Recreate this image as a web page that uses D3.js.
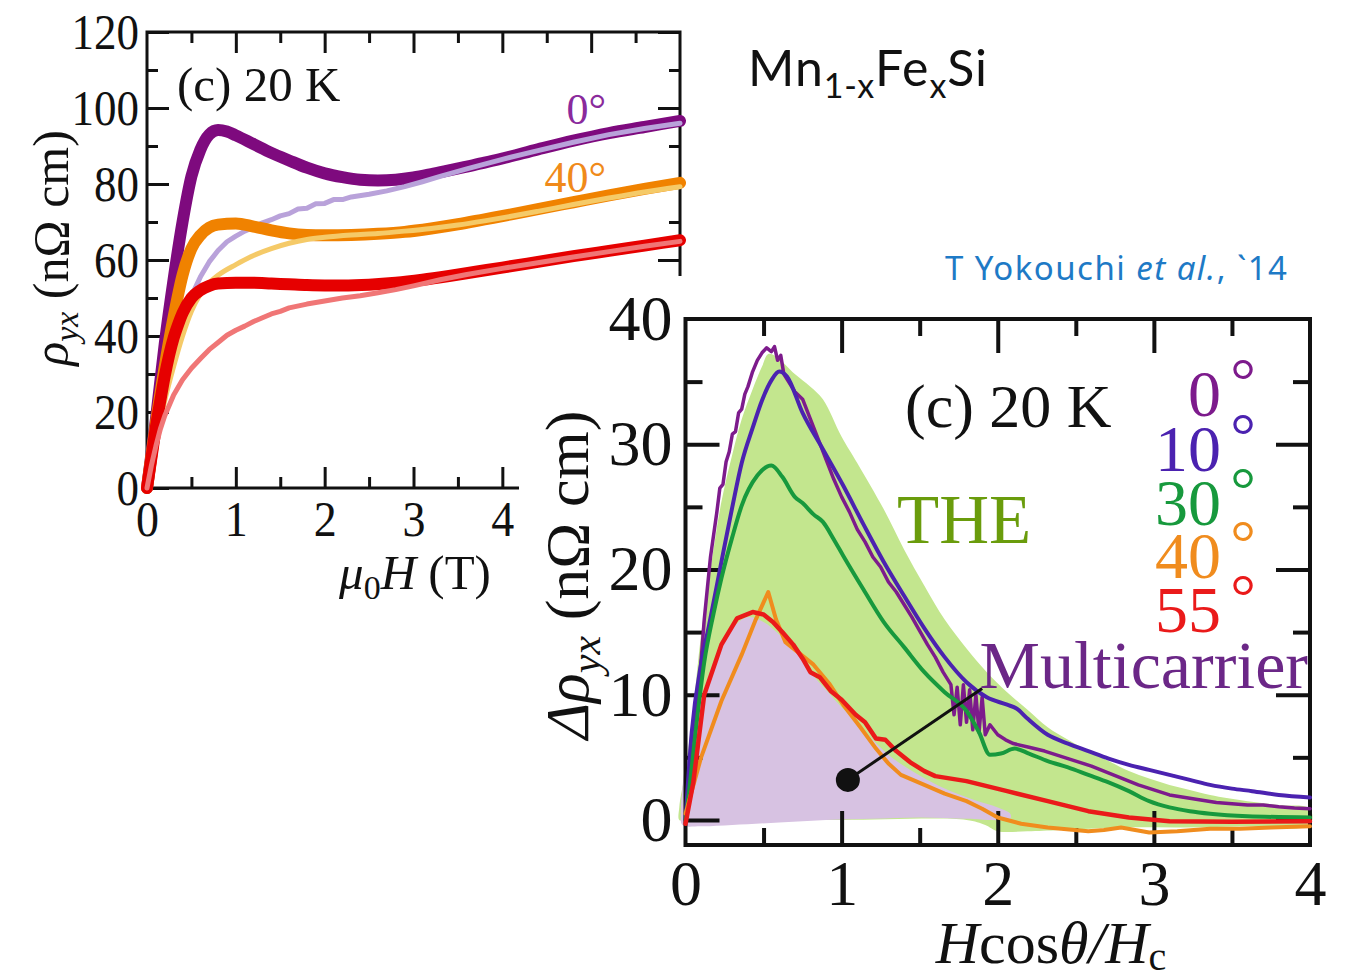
<!DOCTYPE html>
<html>
<head>
<meta charset="utf-8">
<script src="https://cdn.jsdelivr.net/npm/d3@7"></script>
<style>
  body { margin: 0; background: #fff; }
  svg { display: block; }
  .sans { font-family: "Lato", "Noto Sans", sans-serif; }
</style>
</head>
<body>
<svg width="1348" height="978"></svg>
<script>
// ---- left panel: rho_yx vs mu0H (T) ----
const leftXTicks = [0, 1, 2, 3, 4];
const leftYTicks = [0, 20, 40, 60, 80, 100, 120];

const rho0Thick = [[0,0],[0.1,18],[0.2,38],[0.3,55],[0.4,70],[0.5,82],[0.6,89],[0.7,93],[0.8,94.2],[0.9,93.8],[1.0,92.8],[1.2,90.5],[1.4,88.2],[1.6,86.2],[1.8,84.3],[2.0,82.8],[2.2,81.8],[2.4,81.1],[2.6,80.9],[2.8,81.1],[3.0,81.7],[3.2,82.6],[3.4,83.6],[3.6,84.6],[3.8,85.6],[4.0,86.7],[4.4,89.1],[4.8,91.4],[5.2,93.4],[5.6,95],[6,96.6]];
const rho0Thin = [[0,0],[0.1,14],[0.2,26],[0.3,36],[0.4,44],[0.5,50.5],[0.6,55.5],[0.7,59.5],[0.8,62.5],[0.9,64.8],[1.0,66.3],[1.1,67.6],[1.2,68.6],[1.3,69.8],[1.4,70.6],[1.5,71.6],[1.6,72.2],[1.7,73.4],[1.8,73.6],[1.9,74.8],[2.0,74.9],[2.1,75.9],[2.2,75.9],[2.3,76.6],[2.5,77.3],[2.7,78.2],[2.9,79.3],[3.1,80.6],[3.3,82],[3.6,84],[4.0,86.5],[4.4,88.8],[4.8,91],[5.2,93],[5.6,94.6],[6,96]];
const rho40Thick = [[0,0],[0.1,17],[0.2,32],[0.3,45],[0.4,56],[0.5,63],[0.6,66.5],[0.7,68.5],[0.8,69.3],[1.0,69.6],[1.2,68.8],[1.4,67.8],[1.6,67],[1.8,66.6],[2.0,66.5],[2.3,66.6],[2.6,66.9],[2.9,67.4],[3.2,68.3],[3.5,69.4],[3.8,70.7],[4.1,72],[4.4,73.4],[4.8,75.2],[5.2,77],[5.6,78.7],[6,80.3]];
const rho40Thin = [[0,0],[0.1,12],[0.2,23],[0.3,32],[0.4,40],[0.5,46.5],[0.6,51],[0.7,54],[0.8,56],[1.0,58.8],[1.2,61.2],[1.4,63],[1.6,64.4],[1.8,65.4],[2.0,66],[2.3,66.6],[2.6,67],[2.9,67.6],[3.2,68.3],[3.5,69.2],[3.8,70.3],[4.1,71.5],[4.4,72.8],[4.8,74.6],[5.2,76.3],[5.6,77.9],[6,79.3]];
const rho55Thick = [[0,0],[0.05,8],[0.1,16],[0.15,23],[0.2,29.5],[0.25,35],[0.3,39.5],[0.35,43],[0.4,46],[0.5,50],[0.6,52],[0.7,53.2],[0.8,53.8],[1.0,54],[1.2,54],[1.4,53.8],[1.6,53.6],[1.8,53.4],[2.0,53.3],[2.2,53.3],[2.5,53.5],[2.8,54],[3.1,54.8],[3.4,55.8],[3.7,56.9],[4.0,58],[4.4,59.5],[4.8,61],[5.2,62.4],[5.6,63.8],[6,65.2]];
const rho55Thin = [[0,0],[0.05,6],[0.1,11],[0.15,15.5],[0.2,19],[0.3,24.5],[0.4,28.5],[0.5,31.5],[0.6,34],[0.7,36.4],[0.8,38.3],[0.9,40.2],[1.0,41.5],[1.1,42.6],[1.2,43.8],[1.3,44.8],[1.4,45.8],[1.5,46.5],[1.6,47.4],[1.8,48.4],[2.0,49.2],[2.2,50],[2.4,50.6],[2.6,51.4],[2.8,52.2],[3.0,53.2],[3.3,54.8],[3.6,56.2],[4.0,57.8],[4.4,59.3],[4.8,60.8],[5.2,62.2],[5.6,63.6],[6,64.9]];

// ---- right panel: delta rho_yx vs Hcos(theta)/Hc ----
const rightXTicks = [0, 1, 2, 3, 4];
const rightYTicks = [0, 10, 20, 30, 40];
const angleLabels = ["0", "10", "30", "40", "55"];

const d0 = [[0,0],[0.04,4],[0.08,9.5],[0.12,16],[0.16,21],[0.2,24.5],[0.22,26.5],[0.24,26.8],[0.26,28.6],[0.28,29.4],[0.3,30.8],[0.32,31],[0.34,32.5],[0.36,32.8],[0.38,34],[0.4,34.6],[0.43,35.8],[0.46,36.7],[0.49,37.3],[0.52,37.7],[0.55,37.4],[0.57,37.8],[0.59,36.7],[0.61,37.1],[0.63,35.6],[0.66,35],[0.7,34.2],[0.75,33.6],[0.8,32],[0.85,30.4],[0.9,28.8],[0.95,27.2],[1.0,25.8],[1.05,24.6],[1.1,23.2],[1.15,22.2],[1.2,21],[1.25,20.2],[1.3,19],[1.35,18.2],[1.4,17.2],[1.45,16.2],[1.5,15.1],[1.55,14],[1.6,13],[1.65,11.8],[1.7,10.8],[1.72,8.4],[1.74,10.6],[1.76,7.6],[1.78,10.8],[1.8,7.8],[1.82,10.4],[1.84,7.2],[1.86,10],[1.88,7],[1.9,9.8],[1.92,6.8],[1.95,7.6],[2.0,6.8],[2.05,6.4],[2.1,6.1],[2.2,5.8],[2.3,5.5],[2.4,5.1],[2.5,4.7],[2.6,4.3],[2.7,3.8],[2.8,3.3],[2.9,2.8],[3.0,2.4],[3.1,2.0],[3.2,1.8],[3.3,1.6],[3.4,1.4],[3.5,1.3],[3.6,1.2],[3.7,1.2],[3.8,1.05],[3.9,0.95],[4.0,0.9]];
const d10 = [[0,0],[0.04,7],[0.1,12.5],[0.15,15.5],[0.23,20.6],[0.3,25],[0.36,28.5],[0.43,31.3],[0.49,33.5],[0.55,35.1],[0.6,35.8],[0.65,35.4],[0.75,32.5],[0.88,29.6],[1.01,26.7],[1.14,23.6],[1.27,20.6],[1.4,17.9],[1.53,15.3],[1.66,13],[1.8,11],[1.93,9.8],[2.06,9.2],[2.12,8.9],[2.19,8.1],[2.32,6.8],[2.45,6.1],[2.58,5.5],[2.71,4.9],[2.84,4.4],[2.97,4.0],[3.1,3.6],[3.23,3.2],[3.36,2.8],[3.5,2.5],[3.63,2.3],[3.8,2.0],[4.0,1.8]];
const d30 = [[0,0],[0.02,2],[0.06,6.5],[0.12,12.6],[0.18,16.5],[0.23,19.3],[0.3,22.6],[0.36,25.1],[0.46,27.5],[0.55,28.3],[0.62,27.4],[0.7,25.8],[0.75,25.3],[0.82,24.4],[0.88,23.8],[0.95,22.4],[1.01,21.1],[1.14,18.4],[1.27,15.8],[1.4,13.8],[1.53,11.8],[1.66,10.2],[1.8,8.7],[1.88,7.0],[1.95,5.2],[2.02,5.3],[2.11,5.7],[2.2,5.3],[2.32,4.7],[2.45,4.2],[2.58,3.6],[2.71,3.0],[2.84,2.3],[2.97,1.5],[3.1,1.0],[3.23,0.7],[3.36,0.5],[3.6,0.3],[4.0,0.2]];
const d40 = [[0,0.5],[0.1,5],[0.23,9.5],[0.36,13.2],[0.45,16],[0.53,18.2],[0.58,16],[0.64,14.2],[0.72,13.4],[0.82,12.4],[0.92,10.9],[1.01,9.2],[1.12,7.4],[1.22,5.7],[1.3,4.5],[1.38,3.6],[1.53,2.8],[1.66,2.1],[1.8,1.5],[1.9,0.9],[2.0,0.2],[2.15,-0.3],[2.32,-0.6],[2.58,-0.9],[2.68,-0.8],[2.79,-0.6],[2.88,-0.8],[2.97,-1.0],[3.15,-0.9],[3.36,-0.7],[3.55,-0.7],[3.75,-0.6],[4.0,-0.5]];
const d55 = [[0,-0.3],[0.05,3],[0.12,10],[0.23,14],[0.33,16.1],[0.43,16.6],[0.5,16.4],[0.56,15.8],[0.62,15],[0.69,14],[0.75,12.9],[0.8,11.8],[0.86,11.4],[0.93,10.3],[1.0,9.6],[1.09,8.4],[1.15,7.8],[1.22,6.5],[1.28,6.4],[1.35,5.5],[1.44,4.6],[1.53,3.9],[1.6,3.5],[1.8,3.1],[2.06,2.3],[2.32,1.5],[2.58,0.7],[2.84,0.2],[3.1,-0.1],[3.5,-0.15],[4.0,-0.1]];

const theFill = [[-0.04,1],[0,4],[0.05,9],[0.1,14.8],[0.16,20],[0.23,25.4],[0.3,29.2],[0.36,32],[0.43,34.4],[0.49,36.2],[0.53,37.2],[0.58,37],[0.7,35.6],[0.8,34.6],[0.88,33.6],[1.0,30.6],[1.1,28.5],[1.27,24.8],[1.4,21.6],[1.53,18.7],[1.66,16],[1.8,13.7],[1.93,11.8],[2.06,10.2],[2.2,8.7],[2.32,7.4],[2.45,6.4],[2.58,5.5],[2.71,4.7],[2.84,3.9],[2.97,3.3],[3.1,2.8],[3.23,2.4],[3.36,2.0],[3.6,1.5],[3.8,1.2],[4.0,0.9],[4.0,-0.4],[3.6,-0.5],[3.2,-0.6],[2.8,-0.6],[2.4,-0.8],[2.19,-0.9],[2.0,-0.9],[1.92,-0.4],[1.8,0],[1.0,0],[0.4,0],[0,0],[-0.04,0]];
const multiFill = [[-0.03,0.5],[-0.02,2.5],[0,4.5],[0.05,7],[0.12,10.5],[0.2,13.2],[0.3,15.3],[0.4,16.2],[0.5,15.8],[0.6,14.8],[0.7,13.6],[0.8,11.8],[0.9,10.4],[1.0,9.0],[1.1,7.8],[1.2,6.4],[1.3,5.2],[1.4,4.3],[1.55,3.2],[1.7,2.3],[1.85,1.6],[2.0,1.0],[2.08,0.5],[2.08,0.1],[1.8,0.1],[1.5,0.2],[1.2,0.1],[0.9,0],[0.6,-0.2],[0.3,-0.4],[0.1,-0.5],[-0.02,-0.4]];
const pointerStart = [1.04, 3.2];
const pointerEnd = [1.9, 10.5];

const svg = d3.select("svg");
const serif = '"Liberation Serif", "Times New Roman", serif';

// ================= LEFT PANEL =================
const xL = d3.scaleLinear().domain([0, 6]).range([147, 680]);
const yL = d3.scaleLinear().domain([0, 120]).range([488, 32]);
const left = svg.append("g");

function tickAxis(g, axis, values, size, labels, pad, fs, sx) {
  let a = axis.tickValues(values).tickSize(-size).tickPadding(pad);
  a = labels ? a.tickFormat(d3.format("d")) : a.tickFormat("");
  g.call(a);
  g.select(".domain").remove();
  g.selectAll("line").attr("stroke", "#111").attr("stroke-width", 3);
  g.selectAll("text").attr("font-family", serif).attr("font-size", fs).attr("fill", "#111");
  if (sx) g.selectAll("text").attr("transform", `scale(${sx},1)`);
  return g;
}
const halfSteps = (a, b) => d3.range(a, b + 0.001, 1).map(v => v + 0.5);

let gLB = left.append("g").attr("transform", "translate(0,488)");
tickAxis(gLB.append("g"), d3.axisBottom(xL), halfSteps(0, 5), 11, false, 0, 0);
tickAxis(gLB.append("g"), d3.axisBottom(xL), [1, 2, 3, 4, 5], 21, false, 0, 0);
tickAxis(gLB.append("g"), d3.axisBottom(xL), leftXTicks, 0, true, 13, 50, 0.92);
let gLT = left.append("g").attr("transform", "translate(0,32)");
tickAxis(gLT.append("g"), d3.axisTop(xL), halfSteps(0, 5), 11, false, 0, 0);
tickAxis(gLT.append("g"), d3.axisTop(xL), [1, 2, 3, 4, 5], 21, false, 0, 0);
let gLL = left.append("g").attr("transform", "translate(147,0)");
tickAxis(gLL.append("g"), d3.axisLeft(yL), d3.range(10, 120, 20), 11, false, 0, 0);
tickAxis(gLL.append("g"), d3.axisLeft(yL), leftYTicks, 22, true, 9, 50, 0.9);
let gLR = left.append("g").attr("transform", "translate(680,0)");
tickAxis(gLR.append("g"), d3.axisRight(yL), d3.range(10, 120, 20), 11, false, 0, 0);
tickAxis(gLR.append("g"), d3.axisRight(yL), leftYTicks, 22, false, 0, 0);

left.append("rect")
  .attr("x", xL(0)).attr("y", yL(120))
  .attr("width", xL(6) - xL(0)).attr("height", yL(0) - yL(120))
  .attr("fill", "none").attr("stroke", "#111").attr("stroke-width", 3);

const lineL = d3.line().x(d => xL(d[0])).y(d => yL(d[1])).curve(d3.curveMonotoneX);
const lineLraw = d3.line().x(d => xL(d[0])).y(d => yL(d[1]));
const leftSeries = [
  { data: rho0Thick, color: "#7e0a7e", w: 12, smooth: true },
  { data: rho0Thin, color: "#b9a2da", w: 5, smooth: false },
  { data: rho40Thick, color: "#f08200", w: 12, smooth: true },
  { data: rho40Thin, color: "#f5ca68", w: 5, smooth: true },
  { data: rho55Thick, color: "#e60000", w: 12, smooth: true },
  { data: rho55Thin, color: "#f07676", w: 5, smooth: false }
];
leftSeries.forEach(s => {
  left.append("path")
    .attr("d", (s.smooth ? lineL : lineLraw)(s.data))
    .attr("fill", "none").attr("stroke", s.color).attr("stroke-width", s.w)
    .attr("stroke-linecap", "round").attr("stroke-linejoin", "round");
});

left.append("text").attr("x", 177).attr("y", 101)
  .attr("font-family", serif).attr("font-size", 49).attr("fill", "#111").text("(c) 20 K");
left.append("text").attr("x", 606).attr("y", 124).attr("text-anchor", "end")
  .attr("font-family", serif).attr("font-size", 44).attr("fill", "#8a2a9c").text("0°");
left.append("text").attr("x", 606).attr("y", 192).attr("text-anchor", "end")
  .attr("font-family", serif).attr("font-size", 44).attr("fill", "#f08a1a").text("40°");

const yTitleL = left.append("text")
  .attr("transform", "translate(68,248) rotate(-90)").attr("text-anchor", "middle")
  .attr("font-family", serif).attr("font-size", 50).attr("fill", "#111");
yTitleL.append("tspan").attr("font-style", "italic").text("ρ");
yTitleL.append("tspan").attr("font-style", "italic").attr("font-size", 34).attr("dy", 10).text("yx");
yTitleL.append("tspan").attr("dy", -10).text(" (nΩ cm)");

const xTitleL = left.append("text").attr("x", 415).attr("y", 589).attr("text-anchor", "middle")
  .attr("font-family", serif).attr("font-size", 49).attr("fill", "#111");
xTitleL.append("tspan").attr("font-style", "italic").text("μ");
xTitleL.append("tspan").attr("font-size", 34).attr("dy", 10).text("0");
xTitleL.append("tspan").attr("font-style", "italic").attr("dy", -10).text("H");
xTitleL.append("tspan").text(" (T)");

// ================= RIGHT PANEL =================
svg.append("rect").attr("x", 519).attr("y", 276).attr("width", 829).attr("height", 702).attr("fill", "#fff");

const xR = d3.scaleLinear().domain([0, 4]).range([685.5, 1310]);
const yR = d3.scaleLinear().domain([-2, 40]).range([845, 319]);
const right = svg.append("g");
const polyR = d3.line().x(d => xR(d[0])).y(d => yR(d[1])).curve(d3.curveCatmullRomClosed.alpha(0.5));
right.append("path").attr("d", polyR(theFill)).attr("fill", "#c3e68e");
right.append("path").attr("d", polyR(multiFill)).attr("fill", "#d7c2e2");

function tickAxisR(g, axis, values, size, labels, pad, fs) {
  tickAxis(g, axis, values, size, labels, pad, fs);
  g.selectAll("line").attr("stroke-width", 4);
  return g;
}
const halfR = [0.5, 1.5, 2.5, 3.5];
let gRB = right.append("g").attr("transform", "translate(0,845)");
tickAxisR(gRB.append("g"), d3.axisBottom(xR), halfR, 17, false, 0, 0);
tickAxisR(gRB.append("g"), d3.axisBottom(xR), [1, 2, 3], 34, false, 0, 0);
tickAxisR(gRB.append("g"), d3.axisBottom(xR), rightXTicks, 0, true, 15, 64);
let gRT = right.append("g").attr("transform", "translate(0,319)");
tickAxisR(gRT.append("g"), d3.axisTop(xR), halfR, 17, false, 0, 0);
tickAxisR(gRT.append("g"), d3.axisTop(xR), [1, 2, 3], 34, false, 0, 0);
let gRL = right.append("g").attr("transform", "translate(685.5,0)");
tickAxisR(gRL.append("g"), d3.axisLeft(yR), [5, 15, 25, 35], 17, false, 0, 0);
tickAxisR(gRL.append("g"), d3.axisLeft(yR), [0, 10, 20, 30], 34, false, 0, 0);
tickAxisR(gRL.append("g"), d3.axisLeft(yR), rightYTicks, 0, true, 13, 64);
let gRR = right.append("g").attr("transform", "translate(1310,0)");
tickAxisR(gRR.append("g"), d3.axisRight(yR), [5, 15, 25, 35], 17, false, 0, 0);
tickAxisR(gRR.append("g"), d3.axisRight(yR), [0, 10, 20, 30], 34, false, 0, 0);

right.append("rect")
  .attr("x", xR(0)).attr("y", yR(40))
  .attr("width", xR(4) - xR(0)).attr("height", yR(-2) - yR(40))
  .attr("fill", "none").attr("stroke", "#111").attr("stroke-width", 4);

const lineR = d3.line().x(d => xR(d[0])).y(d => yR(d[1]));
const lineRs = d3.line().x(d => xR(d[0])).y(d => yR(d[1])).curve(d3.curveMonotoneX);
const rightSeries = [
  { data: d0, color: "#7d1b8c", w: 3.5, smooth: false },
  { data: d10, color: "#4b22b0", w: 4, smooth: true },
  { data: d30, color: "#17993d", w: 4, smooth: true },
  { data: d40, color: "#f08c1e", w: 4, smooth: false },
  { data: d55, color: "#ea1a1a", w: 4.5, smooth: false }
];
rightSeries.forEach(s => {
  right.append("path")
    .attr("d", (s.smooth ? lineRs : lineR)(s.data))
    .attr("fill", "none").attr("stroke", s.color).attr("stroke-width", s.w)
    .attr("stroke-linecap", "round").attr("stroke-linejoin", "round");
});

right.append("line")
  .attr("x1", xR(pointerStart[0])).attr("y1", yR(pointerStart[1]))
  .attr("x2", xR(pointerEnd[0])).attr("y2", yR(pointerEnd[1]))
  .attr("stroke", "#111").attr("stroke-width", 3);
right.append("circle").attr("cx", xR(pointerStart[0])).attr("cy", yR(pointerStart[1]))
  .attr("r", 12).attr("fill", "#111");

right.append("text").attr("x", 905).attr("y", 427)
  .attr("font-family", serif).attr("font-size", 62).attr("fill", "#111").text("(c) 20 K");
right.append("text").attr("x", 897).attr("y", 543)
  .attr("font-family", serif).attr("font-size", 69).attr("fill", "#6a9c0c").text("THE");
right.append("text").attr("x", 1308).attr("y", 688).attr("text-anchor", "end")
  .attr("font-family", serif).attr("font-size", 68).attr("fill", "#6b2787").text("Multicarrier");

const legendY = [416, 471, 525, 578, 632];
angleLabels.forEach((lab, i) => {
  const c = rightSeries[i].color;
  right.append("text").attr("x", 1221).attr("y", legendY[i]).attr("text-anchor", "end")
    .attr("font-family", serif).attr("font-size", 66).attr("fill", c).text(lab);
  right.append("text").attr("x", 1243).attr("y", legendY[i] - 14).attr("text-anchor", "middle")
    .attr("font-family", serif).attr("font-size", 64).attr("fill", c).text("°");
});

const yTitleR = right.append("text")
  .attr("transform", "translate(588,575) rotate(-90)").attr("text-anchor", "middle")
  .attr("font-family", serif).attr("font-size", 62).attr("fill", "#111");
yTitleR.append("tspan").attr("font-style", "italic").text("Δρ");
yTitleR.append("tspan").attr("font-style", "italic").attr("font-size", 42).attr("dy", 12).text("yx");
yTitleR.append("tspan").attr("dy", -12).text(" (nΩ cm)");

const xTitleR = right.append("text").attr("x", 1051).attr("y", 963).attr("text-anchor", "middle")
  .attr("font-family", serif).attr("font-size", 60).attr("fill", "#111");
xTitleR.append("tspan").attr("font-style", "italic").text("H");
xTitleR.append("tspan").text("cos");
xTitleR.append("tspan").attr("font-style", "italic").text("θ/H");
xTitleR.append("tspan").attr("font-size", 40).attr("dy", 7).text("c");

// ---- titles ----
const title = svg.append("text").attr("x", 748).attr("y", 86)
  .attr("class", "sans").attr("font-size", 50).attr("fill", "#111")
  .attr("textLength", 239).attr("lengthAdjust", "spacing");
title.append("tspan").text("Mn");
title.append("tspan").attr("font-size", 34).attr("dy", 12).text("1-x");
title.append("tspan").attr("dy", -12).text("Fe");
title.append("tspan").attr("font-size", 34).attr("dy", 12).text("x");
title.append("tspan").attr("dy", -12).text("Si");

const cite = svg.append("text").attr("x", 945).attr("y", 280)
  .attr("font-family", '"Noto Sans", "Lato", sans-serif').attr("font-size", 33).attr("fill", "#1e7ac6")
  .attr("textLength", 342).attr("lengthAdjust", "spacing");
cite.append("tspan").text("T Yokouchi ");
cite.append("tspan").attr("font-style", "italic").text("et al.");
cite.append("tspan").text(", `14");
</script>
</body>
</html>
